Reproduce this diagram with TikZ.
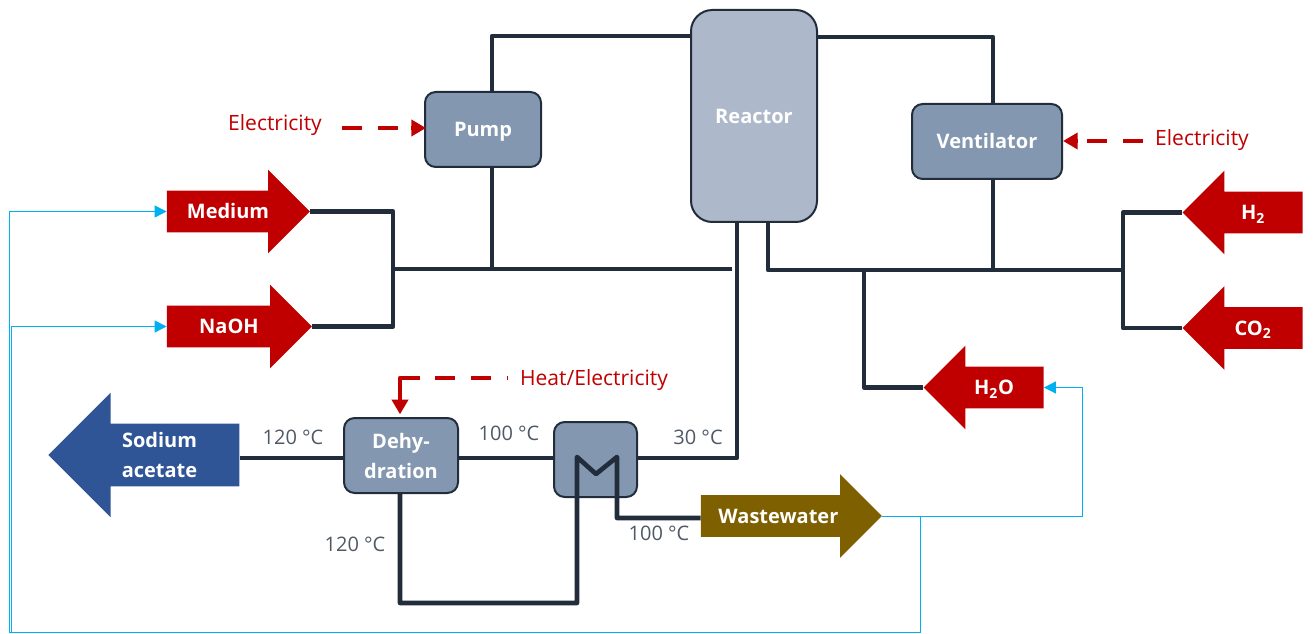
\documentclass[tikz,border=0pt]{standalone}
\usepackage{fontspec}
\setmainfont{Open Sans}
\usetikzlibrary{arrows.meta,shapes.arrows}
\definecolor{pipecol}{HTML}{222D3B}
\definecolor{unitcol}{HTML}{8497B0}
\definecolor{reactorcol}{HTML}{ADB9CA}
\definecolor{feedcol}{HTML}{C00000}
\definecolor{recyclecol}{HTML}{00B0F0}
\definecolor{productcol}{HTML}{2F5597}
\definecolor{wastecol}{HTML}{7F6000}
\definecolor{tempcol}{HTML}{4F5965}
\tikzset{
    unit/.style={draw=pipecol, line width=1.5pt, fill=unitcol, rounded corners=8pt, text=white, font=\fontsize{15}{22.5}\selectfont\bfseries, align=center, inner sep=0pt}, % process units
    flow/.style={shape=single arrow, fill=feedcol, text=white, font=\fontsize{15}{22}\selectfont\bfseries, align=center, inner xsep=0pt, single arrow head extend=15.75pt}, % streams
    oneline/.style={inner ysep=10pt, text height=10.75pt, text depth=0pt},
    pipe/.style={draw=pipecol, line width=3.5pt, line join=round},
    energy/.style={draw=feedcol, line width=3.4pt, dash pattern=on 15pt off 12pt},
    energyend/.style={draw=feedcol, line width=3.4pt, line join=round, -{Triangle[length=11pt,width=12pt]}},
    recycle/.style={draw=recyclecol, line width=0.6pt, -{Triangle[length=9pt,width=9pt]}},
    temp/.style={text=tempcol, font=\fontsize{15}{18}\selectfont},
    energytext/.style={text=feedcol, font=\fontsize{15.8}{18}\selectfont}
}
\begin{document}
\begin{tikzpicture}[x=0.75pt, y=-0.75pt]
    \useasboundingbox (0,0) rectangle (1313,634);

    % units
    \node[unit, minimum width=94.5pt, minimum height=159pt, fill=reactorcol, rounded corners=16pt, text height=10.75pt, text depth=0pt] (reactor) at (754,116) {Reactor};
    \node[unit, minimum width=87pt, minimum height=56.25pt, text height=10.75pt, text depth=0pt] (pump) at (483,129.5) {Pump};
    \node[unit, minimum width=112.5pt, minimum height=56.25pt] (ventilator) at (987,141.5) {Ventilator};
    \node[unit, minimum width=85.5pt, minimum height=56.25pt] (dehy) at (401,455.5) {Dehy-\\dration};
    \node[unit, minimum width=62.25pt, minimum height=56.25pt] (hx) at (595.5,459.5) {};

    % streams
    \foreach \name/\x/\y/\len/\rot/\col/\labelText in {
        medium/228/211.5/107.25/0/feedcol/{Medium},
        naoh/229/326.5/108.75/0/feedcol/{NaOH},
        htwo/1253/212.5/90/180/feedcol/{H\textsubscript{2}},
        cotwo/1253/328/90/180/feedcol/{CO\textsubscript{2}},
        water/994/387.5/90/180/feedcol/{H\textsubscript{2}O},
        waste/781/516/135.75/0/wastecol/{Wastewater}
    } {
        \node[flow, oneline, minimum height=\len pt, shape border rotate=\rot, fill=\col] (\name) at (\x,\y) {\labelText};
    }
    \node[flow, minimum height=143.25pt, shape border rotate=180, fill=productcol, inner ysep=6.6pt, single arrow head extend=23.25pt] (sodium) at (159.5,455) {Sodium\\acetate};

    % pipes
    \coordinate (leftjoin) at (393,269);
    \coordinate (pumpline) at (492,36);
    \coordinate (leftend) at (732,269);
    \coordinate (reactorin) at (768,270);
    \coordinate (ventline) at (993,37);
    \coordinate (rightjoin) at (1123,270);
    \coordinate (waterline) at (864,270);
    \coordinate (reactorout) at (737,458);
    \coordinate (hxin) at (577,603);
    \coordinate (hxtopa) at (577,457);
    \coordinate (hxmid) at (596,474);
    \coordinate (hxtopb) at (617,457);
    \coordinate (hxout) at (617,518);
    \coordinate (dehyout) at (400,603);

    \draw[pipe] (reactor.west |- pumpline) -- (pumpline) -- (pumpline |- pump.north);
    \draw[pipe] (pumpline |- pump.south) -- (pumpline |- leftjoin);
    \draw[pipe] (medium.tip) -| (leftjoin |- naoh.tip) -- (naoh.tip);
    \draw[pipe] (leftjoin) -- (leftend);
    \draw[pipe] (reactor.east |- ventline) -- (ventline) -- (ventline |- ventilator.north);
    \draw[pipe] (ventline |- ventilator.south) -- (ventline |- rightjoin);
    \draw[pipe] (reactorin |- reactor.south) -- (reactorin) -- (rightjoin);
    \draw[pipe] (htwo.tip) -| (rightjoin |- cotwo.tip) -- (cotwo.tip);
    \draw[pipe] (waterline) |- (water.tip);
    \draw[pipe] (reactorout |- reactor.south) -- (reactorout) -- (hx.east |- reactorout);
    \draw[pipe] (hx.west |- reactorout) -- (dehy.east |- reactorout);
    \draw[pipe] (dehy.west |- reactorout) -- (sodium.tail |- reactorout);
    \draw[pipe] (dehyout |- dehy.south) -- (dehyout) -- (hxin) -- (hxtopa) -- (hxmid) -- (hxtopb) -- (hxout) -- (waste.tail |- hxout);

    % energy
    \coordinate (pumpenergy) at (342,128);
    \coordinate (pumpdash) at (412,128);
    \coordinate (ventenergy) at (1143,141);
    \coordinate (ventdash) at (1077,141);
    \coordinate (heatenergy) at (508,378);
    \coordinate (heatdash) at (420,378);
    \coordinate (heatcorner) at (400,378);
    \draw[energy] (pumpenergy) -- (pumpdash);
    \draw[energyend, shorten >=-1.5pt] (pumpdash) ++(-1,0) -- (pump.west |- pumpenergy);
    \draw[energy] (ventenergy) -- (ventdash);
    \draw[energyend] (ventdash) -- (ventilator.east |- ventenergy);
    \draw[energy, dash phase=14pt] (heatenergy) -- (heatdash);
    \draw[energyend, shorten >=2pt] (heatdash) -- (heatcorner) -- (heatcorner |- dehy.north);
    \node[energytext] (elecpump) at (275,125) {Electricity};
    \node[energytext] (elecvent) at (1202,140) {Electricity};
    \node[energytext] (elecheat) at (594,380) {Heat/Electricity};

    % recycle
    \coordinate (wastea) at (920,632);
    \coordinate (wasteb) at (1082,516);
    \coordinate (recyclea) at (9,632);
    \coordinate (recycleb) at (11.7,632);
    \draw[recycle] (waste.tip) -- (wasteb) |- (water.tail);
    \draw[recycle] (waste.tip) -| (wastea) -- (recyclea) |- (medium.tail);
    \draw[recycle] (recycleb) |- (naoh.tail);

    % temperatures
    \foreach \name/\x/\y/\labelText in {
        tempa/293/437/{120 °C},
        tempb/509/433/{100 °C},
        tempc/698/437/{30 °C},
        tempd/355/544/{120 °C},
        tempe/659/533/{100 °C}
    } {
        \node[temp] (\name) at (\x,\y) {\labelText};
    }
\end{tikzpicture}
\end{document}
